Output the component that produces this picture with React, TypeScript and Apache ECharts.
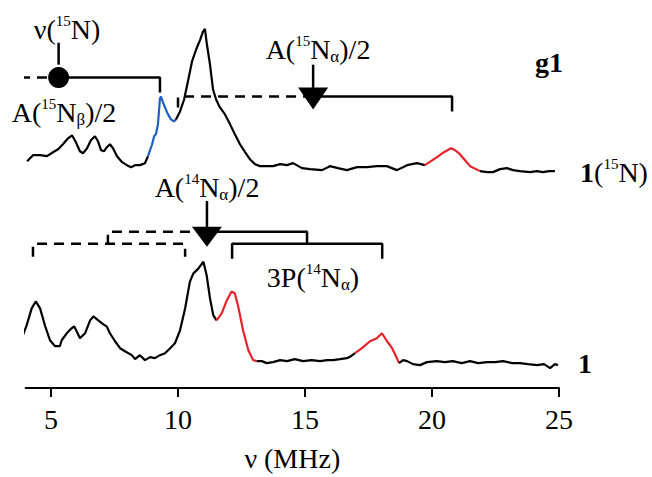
import React, { useEffect, useRef } from "react";
import * as echarts from "echarts";

// ---- axis ----
const X_MIN = 4;
const X_MAX = 25;
const TICK_VALUES = [5, 10, 15, 20, 25];

// ---- spectra: [frequency MHz, intensity (arb.)] ----
const TOP_SPECTRUM: number[][] = [
  [4.06, 6], [4.29, 12], [4.57, 12], [4.84, 11], [5.08, 15], [5.28, 18], [5.47, 23], [5.67, 29],
  [5.83, 32], [5.98, 25], [6.14, 16], [6.26, 14], [6.42, 19], [6.57, 27], [6.73, 31], [6.85, 26],
  [6.97, 17], [7.09, 16], [7.2, 20], [7.32, 23], [7.44, 19], [7.6, 11], [7.8, 5], [7.99, 2],
  [8.15, 0], [8.31, 2], [8.5, 2], [8.7, 4], [8.82, 11], [8.98, 23], [9.06, 31], [9.13, 33],
  [9.21, 43], [9.29, 69], [9.33, 71], [9.41, 65], [9.57, 55], [9.72, 48], [9.84, 46], [9.92, 48],
  [10.08, 56], [10.24, 68], [10.39, 86], [10.55, 106], [10.71, 118], [10.87, 128], [10.98, 136],
  [11.06, 139], [11.14, 123], [11.26, 103], [11.38, 78], [11.5, 68], [11.65, 60], [11.85, 53],
  [12.05, 43], [12.24, 33], [12.44, 23], [12.64, 15], [12.83, 8], [13.03, 3], [13.23, 1],
  [13.43, 1], [13.74, 1], [14.02, 3], [14.29, 2], [14.53, 4], [14.88, -1], [15.2, -2],
  [15.67, -3], [15.98, 1], [16.3, -1], [16.65, -3], [17.05, 0], [17.44, 0], [17.83, 1],
  [18.22, 1], [18.62, -3], [19.02, 2], [19.41, 4], [19.72, 2], [19.96, 6], [20.2, 10],
  [20.47, 15], [20.75, 19], [20.91, 17], [21.1, 13], [21.3, 7], [21.5, 1], [21.89, -4],
  [22.17, -5], [22.4, -5], [22.68, -2], [22.95, -1], [23.19, -3], [23.46, -4], [23.86, -5],
  [24.13, -4], [24.37, -5], [24.61, -4], [24.84, -4],
];

const BOTTOM_SPECTRUM: number[][] = [
  [3.45, 15], [3.58, 16], [3.71, 15], [3.85, 23], [4.04, 36], [4.24, 53], [4.4, 60], [4.57, 53],
  [4.76, 36], [4.96, 21], [5.16, 15], [5.35, 15], [5.42, 21], [5.62, 28], [5.81, 33], [5.91, 35],
  [6.01, 30], [6.14, 23], [6.34, 28], [6.54, 41], [6.67, 45], [6.86, 41], [7.06, 37], [7.19, 35],
  [7.32, 28], [7.52, 20], [7.72, 13], [7.91, 10], [8.18, 6], [8.31, 2], [8.5, 6], [8.7, 1],
  [8.9, 4], [9.09, 3], [9.29, 6], [9.49, 8], [9.69, 13], [9.88, 18], [10.08, 31], [10.28, 53],
  [10.47, 80], [10.6, 88], [10.8, 93], [11.0, 100], [11.13, 86], [11.26, 63], [11.39, 46],
  [11.52, 41], [11.72, 48], [11.92, 61], [12.11, 70], [12.24, 68], [12.37, 55], [12.57, 30],
  [12.77, 11], [12.96, 1], [13.1, 0], [13.3, 0], [13.49, -2], [13.74, -1], [14.02, 1],
  [14.29, 0], [14.6, 2], [14.92, 0], [15.27, 1], [15.59, 0], [15.87, 1], [16.1, 1], [16.38, 2],
  [16.65, 3], [16.81, 5], [16.97, 8], [17.24, 13], [17.56, 20], [17.83, 23], [18.03, 28],
  [18.23, 20], [18.43, 13], [18.58, 5], [18.7, -2], [18.86, 1], [19.02, 0], [19.25, -3],
  [19.53, -4], [19.8, -1], [20.19, 0], [20.5, -1], [20.82, 0], [21.17, -2], [21.5, 0],
  [21.82, -2], [22.17, -1], [22.48, -1], [22.8, 0], [23.15, -2], [23.46, -2], [23.78, -3],
  [24.13, -4], [24.41, -3], [24.65, -7], [24.84, -3], [24.96, -4],
];

// highlighted frequency ranges (MHz)
const TOP_BLUE_RANGES = [[8.82, 9.92]];
const TOP_RED_RANGES = [[19.72, 21.89]];
const BOTTOM_RED_RANGES = [[11.52, 13.1], [16.97, 18.7]];

// ---- annotation frequencies (MHz) ----
const NU_15N = 5.3;
const A15N_ALPHA_CENTER = 15.32;
const A15N_ALPHA_LEFT = 10.0;
const A15N_ALPHA_RIGHT = 20.79;
const A15N_BETA_RIGHT = 9.29;
const A14N_CENTER = 11.14;
const A14N_RIGHT = 15.08;
const A14N_LEFT = 7.24;
const P3_RIGHT = [12.13, 18.04];
const P3_LEFT = [4.29, 10.28];

const BLACK = "#000000";
const BLUE = "#1f5fc4";
const RED = "#e8222a";
const SERIF = "Liberation Serif";

const TOP_OFFSET = 222;
const BOTTOM_OFFSET = 27;

function colorFor(v: number, blue: number[][], red: number[][]) {
  for (const r of blue) if (v >= r[0] && v <= r[1]) return BLUE;
  for (const r of red) if (v >= r[0] && v <= r[1]) return RED;
  return BLACK;
}

function splitSpectrum(data: number[][], offset: number, blue: number[][], red: number[][]) {
  const segs: { color: string; pts: number[][] }[] = [];
  for (let i = 0; i < data.length - 1; i++) {
    const mid = (data[i][0] + data[i + 1][0]) / 2;
    const c = colorFor(mid, blue, red);
    const a = [data[i][0], data[i][1] + offset];
    const b = [data[i + 1][0], data[i + 1][1] + offset];
    const last = segs[segs.length - 1];
    if (last && last.color === c) last.pts.push(b);
    else segs.push({ color: c, pts: [a, b] });
  }
  return segs;
}

function lineSeries(pts: number[][], color: string, width: number, dashed = false) {
  return {
    type: "line",
    data: pts,
    showSymbol: false,
    symbol: "none",
    clip: false,
    silent: true,
    z: 3,
    lineStyle: { color, width, type: dashed ? [10, 7] : "solid", cap: "butt", opacity: 1 },
  };
}

function markerSeries(pt: number[], symbol: string, size: number | number[]) {
  return {
    type: "scatter",
    data: [pt],
    symbol,
    symbolSize: size,
    itemStyle: { color: BLACK, opacity: 1 },
    clip: false,
    silent: true,
    z: 5,
  };
}

const rich = {
  m: { fontSize: 28, fontFamily: SERIF, fill: BLACK, lineHeight: 32, verticalAlign: "middle" },
  b: { fontSize: 28, fontFamily: SERIF, fontWeight: "bold", fill: BLACK, lineHeight: 32, verticalAlign: "middle" },
  sup: { fontSize: 15, fontFamily: SERIF, fill: BLACK, lineHeight: 18, verticalAlign: "top" },
  sub: { fontSize: 17, fontFamily: SERIF, fill: BLACK, lineHeight: 18, verticalAlign: "bottom" },
};

function label(text: string, x: number, y: number) {
  return {
    type: "text",
    x,
    y,
    silent: true,
    style: { text, rich, align: "center", verticalAlign: "middle", fill: BLACK, fontFamily: SERIF, fontSize: 28 },
  };
}

export default function App() {
  const ref = useRef<HTMLDivElement>(null);
  useEffect(() => {
    if (!ref.current) return;
    const chart = echarts.init(ref.current, null, { renderer: "svg" });

    const series: any[] = [];
    for (const s of splitSpectrum(TOP_SPECTRUM, TOP_OFFSET, TOP_BLUE_RANGES, TOP_RED_RANGES))
      series.push(lineSeries(s.pts, s.color, 2.2));
    for (const s of splitSpectrum(BOTTOM_SPECTRUM, BOTTOM_OFFSET, [], BOTTOM_RED_RANGES))
      series.push(lineSeries(s.pts, s.color, 2.2));

    // top annotations (15N)
    series.push(lineSeries([[NU_15N, 347], [NU_15N, 325]], BLACK, 2.5));
    series.push(lineSeries([[3.78, 312], [NU_15N, 312]], BLACK, 2.5, true));
    series.push(lineSeries([[NU_15N, 312], [A15N_BETA_RIGHT, 312], [A15N_BETA_RIGHT, 297]], BLACK, 2.5));
    series.push(lineSeries([[A15N_ALPHA_CENTER, 325], [A15N_ALPHA_CENTER, 300]], BLACK, 2.5));
    series.push(lineSeries([[A15N_ALPHA_LEFT, 282], [A15N_ALPHA_LEFT, 293], [A15N_ALPHA_CENTER, 293]], BLACK, 2.5, true));
    series.push(lineSeries([[A15N_ALPHA_CENTER, 293], [A15N_ALPHA_RIGHT, 293], [A15N_ALPHA_RIGHT, 278]], BLACK, 2.5));

    // bottom annotations (14N)
    series.push(lineSeries([[A14N_CENTER, 188], [A14N_CENTER, 160]], BLACK, 2.5));
    series.push(lineSeries([[A14N_CENTER, 157], [A14N_RIGHT, 157], [A14N_RIGHT, 145]], BLACK, 2.5));
    series.push(lineSeries([[A14N_CENTER, 157], [A14N_LEFT, 157], [A14N_LEFT, 145]], BLACK, 2.5, true));
    series.push(lineSeries([[P3_RIGHT[0], 130], [P3_RIGHT[0], 145], [P3_RIGHT[1], 145], [P3_RIGHT[1], 130]], BLACK, 2.5));
    series.push(lineSeries([[P3_LEFT[0], 132], [P3_LEFT[0], 145], [P3_LEFT[1], 145], [P3_LEFT[1], 132]], BLACK, 2.5, true));

    // markers
    series.push(markerSeries([NU_15N, 312], "circle", 21));
    series.push(markerSeries([A15N_ALPHA_CENTER, 291], "path://M0,0L30,0L15,22Z", [30, 22]));
    series.push(markerSeries([A14N_CENTER, 152], "path://M0,0L30,0L15,20Z", [30, 20]));

    chart.setOption({
      animation: false,
      backgroundColor: "#ffffff",
      grid: { left: 25.6, right: 93, top: 0, bottom: 87 },
      xAxis: {
        type: "value",
        min: X_MIN,
        max: X_MAX,
        name: "ν (MHz)",
        nameLocation: "middle",
        nameGap: 56,
        nameTextStyle: { fontSize: 28, fontFamily: SERIF, color: BLACK },
        axisLine: { show: true, onZero: false, lineStyle: { color: BLACK, width: 2 } },
        axisTick: { show: true, length: 9, customValues: TICK_VALUES, lineStyle: { color: BLACK, width: 2 } },
        axisLabel: { customValues: TICK_VALUES, fontSize: 28, fontFamily: SERIF, color: BLACK, margin: 17 },
        splitLine: { show: false },
      },
      yAxis: { type: "value", min: 0, max: 390, show: false },
      series,
      graphic: [
        label("{m|ν(}{sup|15}{m|N)}", 67, 29),
        label("{m|A(}{sup|15}{m|N}{sub|β}{m|)/2}", 64, 112),
        label("{m|A(}{sup|15}{m|N}{sub|α}{m|)/2}", 318, 49),
        label("{b|g1}", 549, 62),
        label("{b|1}{m|(}{sup|15}{m|N)}", 614, 172),
        label("{m|A(}{sup|14}{m|N}{sub|α}{m|)/2}", 207, 187),
        label("{m|3P(}{sup|14}{m|N}{sub|α}{m|)}", 313, 277),
        label("{b|1}", 585, 363),
      ],
    });
    return () => chart.dispose();
  }, []);
  return (
    <div
      ref={ref}
      style={{ position: "absolute", left: 0, top: 0, width: 652, height: 477, background: "#fff" }}
    />
  );
}
